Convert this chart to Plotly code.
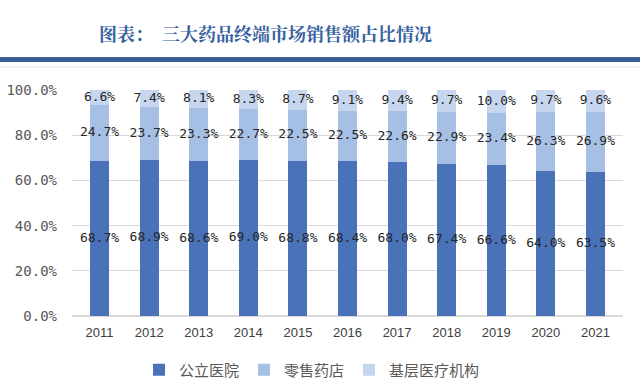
import plotly.graph_objects as go

years = ["2011", "2012", "2013", "2014", "2015", "2016", "2017", "2018", "2019", "2020", "2021"]
public_hospital = [68.7, 68.9, 68.6, 69.0, 68.8, 68.4, 68.0, 67.4, 66.6, 64.0, 63.5]
retail_pharmacy = [24.7, 23.7, 23.3, 22.7, 22.5, 22.5, 22.6, 22.9, 23.4, 26.3, 26.9]
primary_care = [6.6, 7.4, 8.1, 8.3, 8.7, 9.1, 9.4, 9.7, 10.0, 9.7, 9.6]
series_names = ["公立医院", "零售药店", "基层医疗机构"]
colors = ["#4a72b8", "#a5bfe5", "#c6d6ef"]
y_ticks = [0, 20, 40, 60, 80, 100]
y_tick_labels = ["0.0%", "20.0%", "40.0%", "60.0%", "80.0%", "100.0%"]
title_text = "图表：  三大药品终端市场销售额占比情况"

label_font = dict(family="DejaVu Sans Mono, monospace", size=13, color="#262626")

fig = go.Figure()
all_series = [public_hospital, retail_pharmacy, primary_care]
for name, vals, col in zip(series_names, all_series, colors):
    fig.add_trace(go.Bar(
        x=years, y=vals, name=name,
        marker=dict(color=col, line=dict(width=0)),
        hoverinfo="skip",
    ))

# data labels centred in each stacked segment
base = [0.0] * len(years)
for vals in all_series:
    centers = [b + v / 2 for b, v in zip(base, vals)]
    fig.add_trace(go.Scatter(
        x=years, y=centers, mode="text",
        text=[f"{v:.1f}%" for v in vals],
        textposition="middle center",
        textfont=label_font,
        showlegend=False, hoverinfo="skip", cliponaxis=False,
    ))
    base = [b + v for b, v in zip(base, vals)]

L, R, T, B = 72, 17, 90, 71
pw, ph = 640 - L - R, 387 - T - B

def px_x(X):
    return (X - L) / pw

def px_y(Y):
    return (387 - B - Y) / ph

fig.update_layout(
    barmode="stack",
    bargap=0.62,
    width=640, height=387,
    margin=dict(l=L, r=R, t=T, b=B, autoexpand=False),
    paper_bgcolor="white",
    plot_bgcolor="white",
    showlegend=True,
    legend=dict(
        orientation="h", x=px_x(312), xanchor="center",
        yref="container", y=1 - 370 / 387, yanchor="middle",
        font=dict(family="Noto Sans CJK SC", size=15, color="#595959"),
        itemwidth=30, traceorder="normal",
    ),
    font=dict(family="Noto Sans CJK SC"),
    annotations=[dict(
        text="<b>" + title_text + "</b>", xref="paper", yref="paper",
        x=px_x(265), y=px_y(33), xanchor="center", yanchor="middle",
        showarrow=False,
        font=dict(family="Noto Serif CJK SC, Noto Sans CJK SC", size=18, color="#3560a0"),
    )],
    shapes=[
        dict(type="rect", xref="paper", yref="paper",
             x0=px_x(0), x1=px_x(640), y0=px_y(62), y1=px_y(57),
             fillcolor="#3a5f98", line=dict(width=0), layer="above"),
        dict(type="line", xref="paper", yref="paper",
             x0=px_x(0), x1=px_x(640), y0=px_y(67), y1=px_y(67),
             line=dict(color="#e6e6e6", width=1)),
    ],
)
fig.update_yaxes(
    range=[0, 100], tickvals=y_ticks, ticktext=y_tick_labels,
    showgrid=True, gridcolor="#d9d9d9", gridwidth=1,
    zeroline=True, zerolinecolor="#d9d9d9",
    tickfont=dict(family="DejaVu Sans Mono, monospace", size=14, color="#595959"),
    ticks="", ticklen=0, ticklabelstandoff=14,
    showline=False,
)
fig.update_xaxes(
    tickfont=dict(family="Liberation Sans, Arial", size=13, color="#404040"),
    showline=False, showgrid=False,
    ticks="", ticklabelstandoff=7,
)

fig.write_html(
    "out.html",
    config={"displayModeBar": False},
    post_script="document.body.style.margin='0';document.body.style.padding='0';",
)
